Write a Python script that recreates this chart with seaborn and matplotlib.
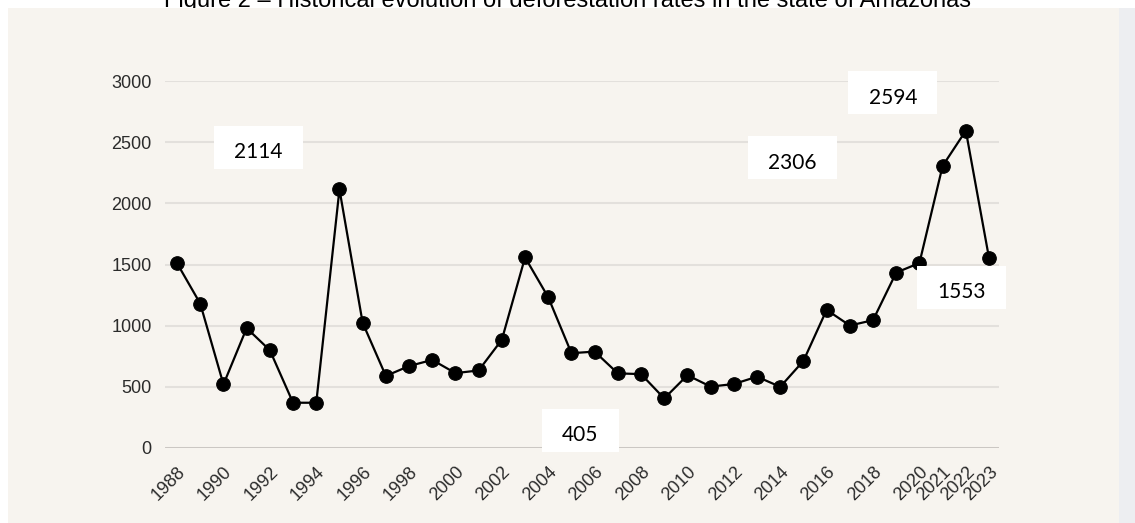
import matplotlib

matplotlib.use("Agg")
import matplotlib.pyplot as plt
import seaborn as sns
from matplotlib.patches import Rectangle
from matplotlib.transforms import ScaledTranslation

# PRODES deforestation, state of Amazonas (km2)
years = list(range(1988, 2024))
rates = [
    1510, 1180, 520, 980, 799, 370, 370, 2114, 1023, 589,
    670, 720, 612, 634, 885, 1558, 1232, 775, 788, 610,
    604, 405, 595, 502, 523, 583, 500, 712, 1129, 1001,
    1045, 1434, 1512, 2306, 2594, 1553,
]
tick_years = list(range(1988, 2021, 2)) + [2021, 2022, 2023]
y_ticks = [0, 500, 1000, 1500, 2000, 2500, 3000]

# years that get a white label box, with box offsets in pixels from the point
label_years = [1995, 2009, 2021, 2022, 2023]
label_offsets = [(-81, 42), (-84, -32), (-150, 8), (-73, 38), (-28, -29)]
label_sizes = [(89, 43), (77, 43), (89, 43), (89, 43), (89, 43)]

title = "Figure 2 \u2013 Historical evolution of deforestation rates in the state of Amazonas"

W, H = 1135, 523
BEIGE = "#f7f4ef"
STRIP = "#edeef1"
GRID = "#e3e0dc"
ZERO = "#c9c5c1"

sns.set_theme(style="white")
plt.rcParams["font.family"] = ["Liberation Sans", "DejaVu Sans"]

fig = plt.figure(figsize=(W / 100, H / 100), dpi=100)
fig.patch.set_facecolor("white")

# the source image is cropped through the caption, so only its lower part shows
fig.text(0.5, 1 - 7 / H, title, ha="center", va="baseline", fontsize=17,
         color="black", zorder=0)
fig.add_artist(Rectangle((8 / W, 0), (1119 - 8) / W, (H - 8) / H,
                         transform=fig.transFigure, fc=BEIGE, ec="none", zorder=1))
fig.add_artist(Rectangle((1119 / W, 0), (W - 1119) / W, (H - 8) / H,
                         transform=fig.transFigure, fc=STRIP, ec="none", zorder=1))

ax = fig.add_axes([165 / W, 1 - 448 / H, (999 - 165) / W, (448 - 81) / H])
ax.set_zorder(2)
ax.patch.set_alpha(0)

sns.lineplot(x=years, y=rates, ax=ax, color="black", linewidth=1.6,
             marker="o", markersize=9.8, markeredgecolor="black", zorder=3)

ax.set_xlim(1987.48, 2023.43)
ax.set_ylim(0, 3000)
ax.set_yticks(y_ticks)
ax.set_xticks(tick_years)
ax.set_xticklabels([str(y) for y in tick_years], rotation=45, ha="right",
                   rotation_mode="anchor")
ax.grid(axis="y", color=GRID, linewidth=1.5)
ax.grid(axis="x", visible=False)
ax.axhline(0, color=ZERO, linewidth=2, zorder=1)
sns.despine(ax=ax, left=True, bottom=True)
ax.tick_params(axis="y", length=0, pad=9.5, labelsize=13, labelcolor="#2b2b2b")
ax.tick_params(axis="x", length=0, pad=11, labelsize=13, labelcolor="#2b2b2b")
ax.set_xlabel("")
ax.set_ylabel("")

for year, (dx, dy), (bw, bh) in zip(label_years, label_offsets, label_sizes):
    value = rates[years.index(year)]
    anchor = ScaledTranslation(year, value, ax.transData)
    fig.add_artist(Rectangle((dx - bw / 2, dy - bh / 2), bw, bh,
                             transform=anchor, fc="white", ec="none", zorder=4))
    fig.text(dx, dy - 11, str(value), transform=anchor, ha="center",
             va="baseline", fontsize=15, family=["Lato", "DejaVu Sans"],
             color="black", zorder=5)

fig.savefig("out.png", dpi=100)
